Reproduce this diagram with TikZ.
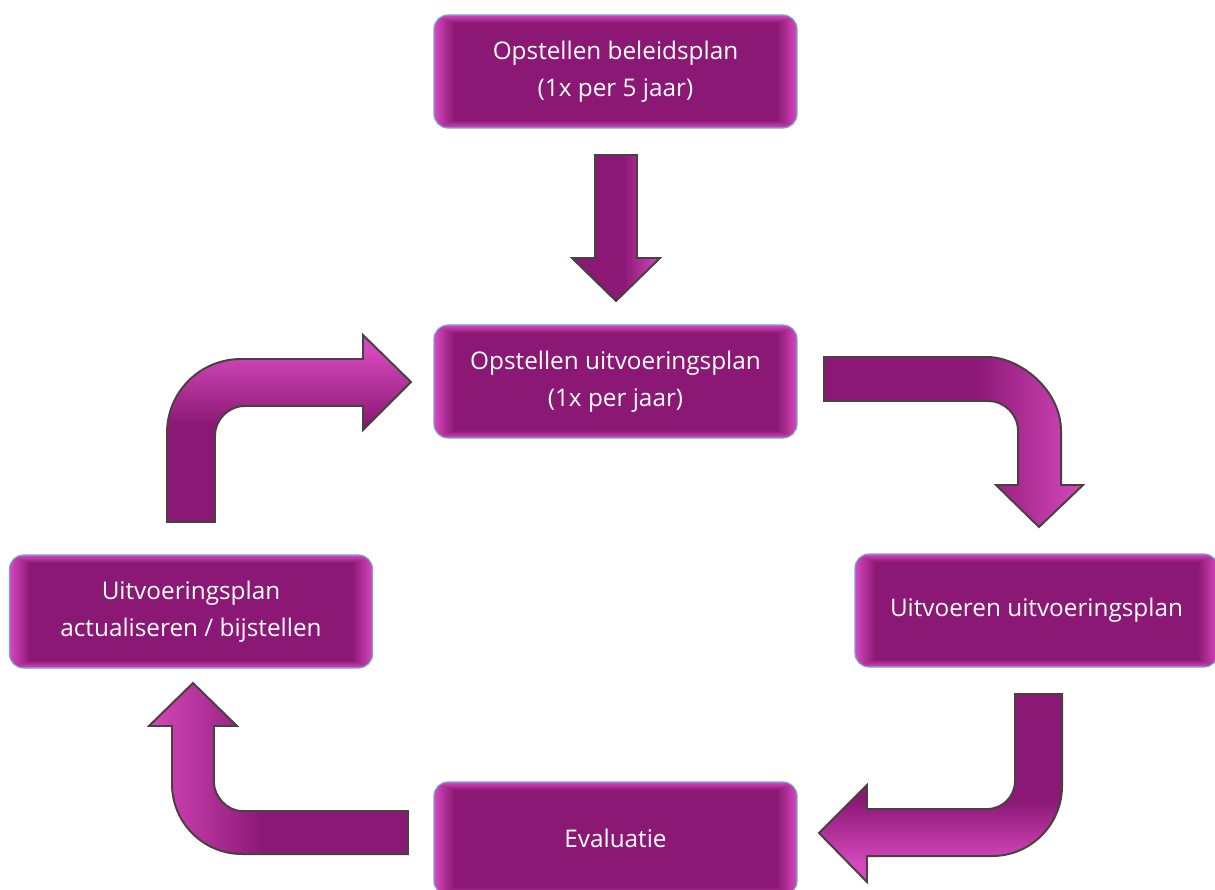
\documentclass[tikz,border=0pt]{standalone}
\usepackage{fontspec}
\setmainfont{Open Sans}
\usetikzlibrary{positioning}

\definecolor{paars}{HTML}{8B1874}
\definecolor{roze}{HTML}{D548BC}
\definecolor{rand}{HTML}{72A9DA}
\definecolor{lijn}{HTML}{4A4040}

% gloed langs de randen van de blokken
\pgfdeclarefunctionalshading{blokgloed}{\pgfpoint{0bp}{0bp}}{\pgfpoint{100bp}{100bp}}{}{
  exch dup 25 sub exch 75 exch sub 2 copy gt {exch} if pop
  2.8 div 1 exch sub dup 0 lt {pop 0} if
  exch dup 25 sub exch 75 exch sub 2 copy gt {exch} if pop
  3.5 div 1 exch sub dup 0 lt {pop 0} if
  2 copy lt {exch} if pop
  dup 0.30 mul 0.545 add exch
  dup 0.19 mul 0.094 add exch
  0.29 mul 0.455 add
}
\pgfdeclarehorizontalshading{pijlrechts}{100bp}{color(0bp)=(paars); color(54bp)=(paars); color(75bp)=(roze); color(100bp)=(roze)}
\pgfdeclarehorizontalshading{pijllinks}{100bp}{color(0bp)=(roze); color(25bp)=(roze); color(47bp)=(paars); color(100bp)=(paars)}
\pgfdeclareverticalshading{pijlboven}{100bp}{color(0bp)=(paars); color(51bp)=(paars); color(71bp)=(roze); color(100bp)=(roze)}
\pgfdeclareverticalshading{pijlonder}{100bp}{color(0bp)=(roze); color(30bp)=(roze); color(47bp)=(paars); color(100bp)=(paars)}

\tikzset{
  blok/.style={draw=rand, line width=.8pt, rounded corners=10pt,
               shade, shading=blokgloed, text=white, align=center,
               minimum width=9.075cm, minimum height=2.825cm,
               font=\fontsize{17.3}{26.5}\selectfont},
  pijl/.style={draw=lijn, line width=1.4pt, line join=miter, shade, shading=#1}
}

\begin{document}
\begin{tikzpicture}[x=0.025cm, y=-0.025cm]
   \useasboundingbox (0,0) rectangle (1215,889);

   \node [blok] (beleidsplan) at (615.5,71.5) {Opstellen beleidsplan\\(1x per 5 jaar)};
   \node [blok] (opstellen) at (615.5,381.5) {Opstellen uitvoeringsplan\\(1x per jaar)};
   \node [blok] (uitvoeren) at (1036.5,610.5) {Uitvoeren uitvoeringsplan};
   \node [blok] (evaluatie) at (615.5,838.5) {Evaluatie};
   \node [blok] (bijstellen) at (191,611.5) {Uitvoeringsplan\\actualiseren / bijstellen};

   \draw [pijl=pijlrechts] (595,155) -- (637,155) -- (637,258) -- (660,258) -- (616,301)
         -- (572,258) -- (595,258) -- cycle;
   \draw [pijl=pijlrechts] (824,357) -- (987,357) .. controls (1020.1,357) and (1061,390.1) .. (1061,431)
         -- (1061,485) -- (1083,485) -- (1039,527) -- (996,485) -- (1018,485) -- (1018,431)
         .. controls (1018,414.4) and (1004.6,401) .. (988,401) -- (824,401) -- cycle;
   \draw [pijl=pijlonder] (1015,694) -- (1062,694) -- (1062,786) .. controls (1062,824.7) and (1030.7,856) .. (992,856)
         -- (867,856) -- (867,882) -- (819,833) -- (867,785) -- (867,809) -- (987,809)
         .. controls (1002.5,809) and (1015,796.5) .. (1015,781) -- cycle;
   \draw [pijl=pijllinks] (408,811) -- (242,811) .. controls (226.5,811) and (214,795.5) .. (214,783)
         -- (214,726) -- (237,726) -- (193,683) -- (149,726) -- (172,726) -- (172,784)
         .. controls (172,822.7) and (203.3,854) .. (242,854) -- (408,854) -- cycle;
   \draw [pijl=pijlboven] (167,522) -- (167,433) .. controls (167,392) and (200,359) .. (241,359)
         -- (363,359) -- (363,335) -- (411,382) -- (363,430) -- (363,406) -- (245,406)
         .. controls (228.4,406) and (215,419.4) .. (215,436) -- (215,522) -- cycle;
\end{tikzpicture}
\end{document}
